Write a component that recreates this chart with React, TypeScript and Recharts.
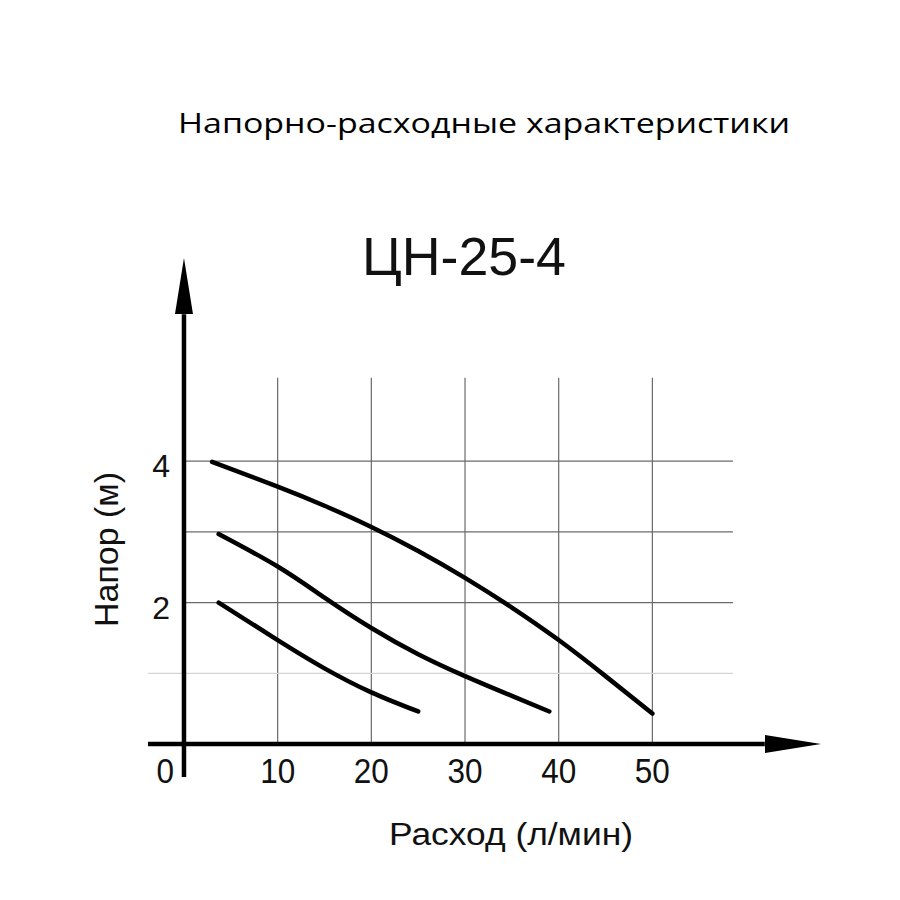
import React from 'react';
import { LineChart, Line, XAxis, YAxis, ReferenceLine, ReferenceDot } from 'recharts';

const topFlow = [3, 10, 15, 20, 25, 30, 35, 40, 45, 50];
const topHead = [3.99, 3.64, 3.37, 3.07, 2.73, 2.35, 1.93, 1.47, 0.96, 0.43];
const midFlow = [3.7, 10, 15, 20, 25, 30, 35, 39];
const midHead = [2.97, 2.51, 2.07, 1.64, 1.27, 0.96, 0.68, 0.46];
const lowFlow = [3.7, 10, 15, 20, 25];
const lowHead = [2.0, 1.47, 1.07, 0.73, 0.46];

const xTicks = [0, 10, 20, 30, 40, 50];
const yTicks = [2, 4];
const gridX = [10, 20, 30, 40, 50];
const gridY = [2, 3, 4];
const faintY = [1];

const xDomain: [number, number] = [-3.84, 68];
const yDomain: [number, number] = [-0.467, 6.874];
const gridTopY = 5.18;
const gridRightX = 58.6;
const xArrowBase = 62;
const yArrowBase = 6.08;

const title = 'Напорно-расходные характеристики';
const model = 'ЦН-25-4';
const xLabel = 'Расход (л/мин)';
const yLabel = 'Напор (м)';

const toData = (xs: number[], ys: number[]) => xs.map((x, i) => ({ flow: x, head: ys[i] }));
const topData = toData(topFlow, topHead);
const midData = toData(midFlow, midHead);
const lowData = toData(lowFlow, lowHead);

const FONT = '"Liberation Sans", Arial, sans-serif';

const renderXTick = (props: any) => {
  const { x, y, payload } = props;
  const isZero = payload.value === 0;
  const tx = isZero ? x - 10 : x;
  return (
    <text
      key={`xt${payload.value}`}
      x={0}
      y={0}
      transform={`translate(${tx}, ${y + 6}) scale(0.9, 1)`}
      textAnchor={isZero ? 'end' : 'middle'}
      fontSize={35}
      fontFamily={FONT}
      fill="#111"
    >
      {payload.value}
    </text>
  );
};

const renderYTick = (props: any) => {
  const { x, y, payload } = props;
  return (
    <text key={`yt${payload.value}`} x={x + 22} y={y + 16} textAnchor="end" fontSize={32} fontFamily={FONT} fill="#111">
      {payload.value}
    </text>
  );
};

const RightArrow = (p: any) => (
  <polygon points={`${p.cx},${p.cy} ${p.cx - 56},${p.cy - 9} ${p.cx - 56},${p.cy + 9}`} fill="#000" />
);
const UpArrow = (p: any) => (
  <polygon points={`${p.cx},${p.cy} ${p.cx - 9},${p.cy + 56} ${p.cx + 9},${p.cy + 56}`} fill="#000" />
);

export default function App() {
  return (
    <div style={{ position: 'absolute', left: 0, top: 0, width: 900, height: 900, background: '#fff' }}>
      <LineChart width={900} height={900} margin={{ top: 258, right: 79, bottom: 122, left: 147 }}>
        <XAxis
          dataKey="flow"
          type="number"
          domain={xDomain}
          allowDataOverflow
          ticks={xTicks}
          height={1}
          axisLine={false}
          tickLine={false}
          tickSize={0}
          tickMargin={0}
          tick={renderXTick}
          interval={0}
        />
        <YAxis
          type="number"
          domain={yDomain}
          allowDataOverflow
          ticks={yTicks}
          width={1}
          axisLine={false}
          tickLine={false}
          tickSize={0}
          tickMargin={0}
          tick={renderYTick}
          interval={0}
        />
        {gridX.map((gx) => (
          <ReferenceLine key={`gx${gx}`} segment={[{ x: gx, y: 0 }, { x: gx, y: gridTopY }]} stroke="#6a6a6a" strokeWidth={1.2} ifOverflow="visible" />
        ))}
        {gridY.map((gy) => (
          <ReferenceLine key={`gy${gy}`} segment={[{ x: 0, y: gy }, { x: gridRightX, y: gy }]} stroke="#6a6a6a" strokeWidth={1.2} ifOverflow="visible" />
        ))}
        {faintY.map((gy) => (
          <ReferenceLine key={`fy${gy}`} segment={[{ x: xDomain[0], y: gy }, { x: gridRightX, y: gy }]} stroke="#d4d4d4" strokeWidth={1.2} ifOverflow="visible" />
        ))}
        <ReferenceLine segment={[{ x: xDomain[0], y: 0 }, { x: xArrowBase, y: 0 }]} stroke="#000" strokeWidth={4.5} ifOverflow="visible" />
        <ReferenceLine segment={[{ x: 0, y: yDomain[0] }, { x: 0, y: yArrowBase }]} stroke="#000" strokeWidth={4.5} ifOverflow="visible" />
        <ReferenceDot x={xDomain[1]} y={0} r={0} shape={RightArrow} ifOverflow="visible" />
        <ReferenceDot x={0} y={yDomain[1]} r={0} shape={UpArrow} ifOverflow="visible" />
        <Line data={topData} dataKey="head" type="natural" stroke="#000" strokeWidth={4.5} dot={false} isAnimationActive={false} strokeLinecap="round" />
        <Line data={midData} dataKey="head" type="natural" stroke="#000" strokeWidth={4.5} dot={false} isAnimationActive={false} strokeLinecap="round" />
        <Line data={lowData} dataKey="head" type="natural" stroke="#000" strokeWidth={4.5} dot={false} isAnimationActive={false} strokeLinecap="round" />
      </LineChart>
      <svg width={900} height={900} style={{ position: 'absolute', left: 0, top: 0, pointerEvents: 'none' }}>
        <text x={178} y={133} fontSize={28} fontFamily='"Open Sans", sans-serif' fill="#000" textLength={612} lengthAdjust="spacingAndGlyphs">
          {title}
        </text>
        <text x={362} y={275} fontSize={54} fontFamily={FONT} fill="#111" textLength={204} lengthAdjust="spacingAndGlyphs">
          {model}
        </text>
        <text x={389} y={845} fontSize={31} fontFamily={FONT} fill="#111" textLength={244} lengthAdjust="spacingAndGlyphs">
          {xLabel}
        </text>
        <text x={0} y={0} transform="translate(118, 627) rotate(-90)" fontSize={33} fontFamily={FONT} fill="#111" textLength={155} lengthAdjust="spacingAndGlyphs">
          {yLabel}
        </text>
      </svg>
    </div>
  );
}
